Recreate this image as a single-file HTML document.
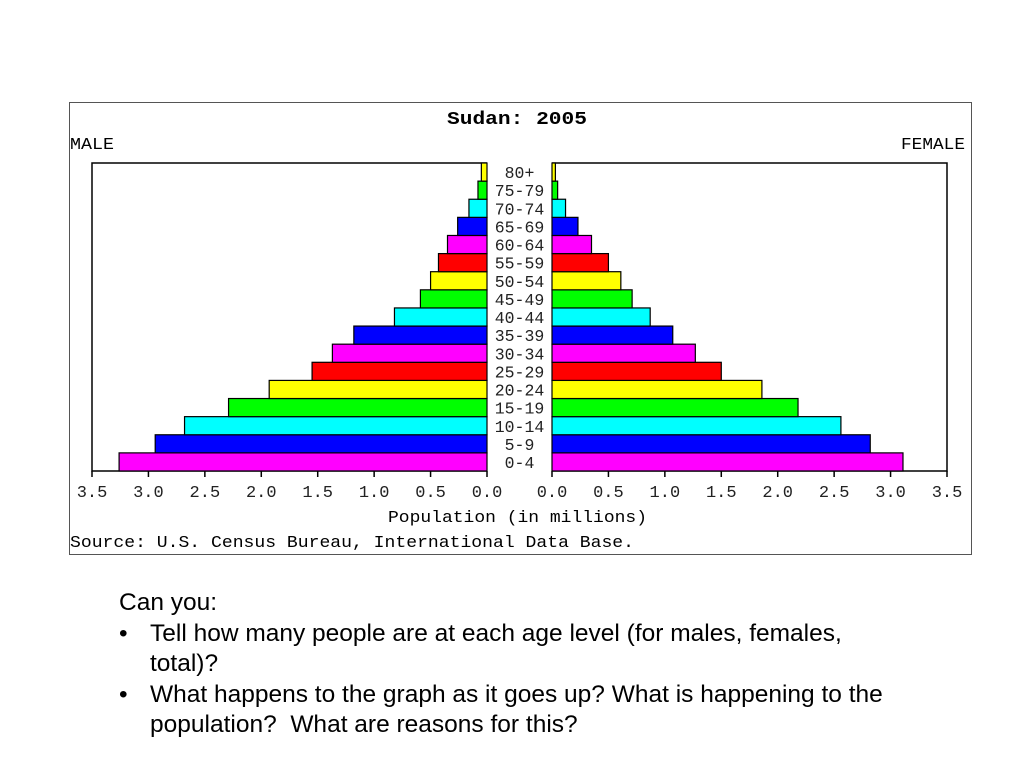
<!DOCTYPE html>
<html><head><meta charset="utf-8"><style>
body{margin:0;background:#fff;width:1024px;height:768px;overflow:hidden;position:relative;font-family:"Liberation Sans",Arial,sans-serif}
.txt{position:absolute;left:119px;top:588px;width:790px;font-size:24.5px;line-height:30.5px;color:#000}
.li{position:relative;padding-left:31px}
.li:before{content:"•";position:absolute;left:0}
</style></head><body>
<svg width="1024" height="560" style="position:absolute;left:0;top:0" font-family="Liberation Mono, monospace">
<rect x="69.5" y="102.5" width="902" height="452" fill="#fff" stroke="#555" stroke-width="1"/>
<text x="447" y="124" font-weight="bold" font-size="18" textLength="140" lengthAdjust="spacingAndGlyphs">Sudan: 2005</text>
<text x="70" y="149" font-size="17" textLength="44" lengthAdjust="spacingAndGlyphs">MALE</text>
<text x="901" y="149" font-size="17" textLength="64" lengthAdjust="spacingAndGlyphs">FEMALE</text>
<g id="g"></g>
<text x="388" y="522" font-size="17" textLength="259" lengthAdjust="spacingAndGlyphs">Population (in millions)</text>
<text x="70" y="547" font-size="17" textLength="564" lengthAdjust="spacingAndGlyphs">Source: U.S. Census Bureau, International Data Base.</text>
</svg>
<div class="txt">
<div>Can you:</div>
<div class="li">Tell how many people are at each age level (for males, females, total)?</div>
<div class="li">What happens to the graph as it goes up? What is happening to the population?&nbsp; What are reasons for this?</div>
</div>
<script>
const ageGroups=["0-4","5-9","10-14","15-19","20-24","25-29","30-34","35-39","40-44","45-49","50-54","55-59","60-64","65-69","70-74","75-79","80+"];
const maleValues=[3.26,2.94,2.68,2.29,1.93,1.55,1.37,1.18,0.82,0.59,0.50,0.43,0.35,0.26,0.16,0.08,0.05];
const femaleValues=[3.11,2.82,2.56,2.18,1.86,1.50,1.27,1.07,0.87,0.71,0.61,0.50,0.35,0.23,0.12,0.05,0.03];
const tickValues=[0,0.5,1,1.5,2,2.5,3,3.5];
const tickLabels=["0.0","0.5","1.0","1.5","2.0","2.5","3.0","3.5"];
const colors=["#ff00ff","#0000ff","#00ffff","#00ff00","#ffff00","#ff0000"];
const NS="http://www.w3.org/2000/svg",grp=document.getElementById('g');
const maxV=3.5,mZero=487,mEnd=92,fZero=552,fEnd=947,plotTop=163,plotBot=471;
const mx=v=>mZero-(mZero-mEnd)*v/maxV, fx=v=>fZero+(fEnd-fZero)*v/maxV;
const rowH=(plotBot-plotTop)/ageGroups.length;
const ry=i=>plotBot-(i+1)*rowH;
function mk(t,a){const e=document.createElementNS(NS,t);for(const k in a)e.setAttribute(k,a[k]);grp.appendChild(e);return e;}
let e;
e=mk('path',{d:`M${mZero},${plotTop}H${mEnd}V${plotBot}H${mZero}`,fill:'none',stroke:'#000','stroke-width':1.5});


e=mk('path',{d:`M${fZero},${plotTop}H${fEnd}V${plotBot}H${fZero}`,fill:'none',stroke:'#000','stroke-width':1.5});


ageGroups.forEach((a,i)=>{
 const c=colors[i%6],y=ry(i);
 e=mk('rect',{x:mx(maleValues[i]),y:y,width:mZero-mx(maleValues[i]),height:rowH,fill:c,stroke:'#000','stroke-width':1.2});
 
 
 e=mk('rect',{x:fZero,y:y,width:fx(femaleValues[i])-fZero,height:rowH,fill:c,stroke:'#000','stroke-width':1.2});
 
 
 e=mk('text',{x:(mZero+fZero)/2,y:y+rowH-3,'text-anchor':'middle','font-size':16.5,fill:'#222'});
 e.textContent=a;
 
 
});
tickValues.forEach((v,i)=>{
 [[mx(v),'male'],[fx(v),'female']].forEach(([x,s])=>{
  e=mk('line',{x1:x,x2:x,y1:plotBot,y2:plotBot+6,stroke:'#000','stroke-width':1.5});
  
  
  e=mk('text',{x:x,y:plotBot+26,'text-anchor':'middle','font-size':17,fill:'#222'});
  e.textContent=tickLabels[i];
  
  
 });
});
</script>
</body></html>
